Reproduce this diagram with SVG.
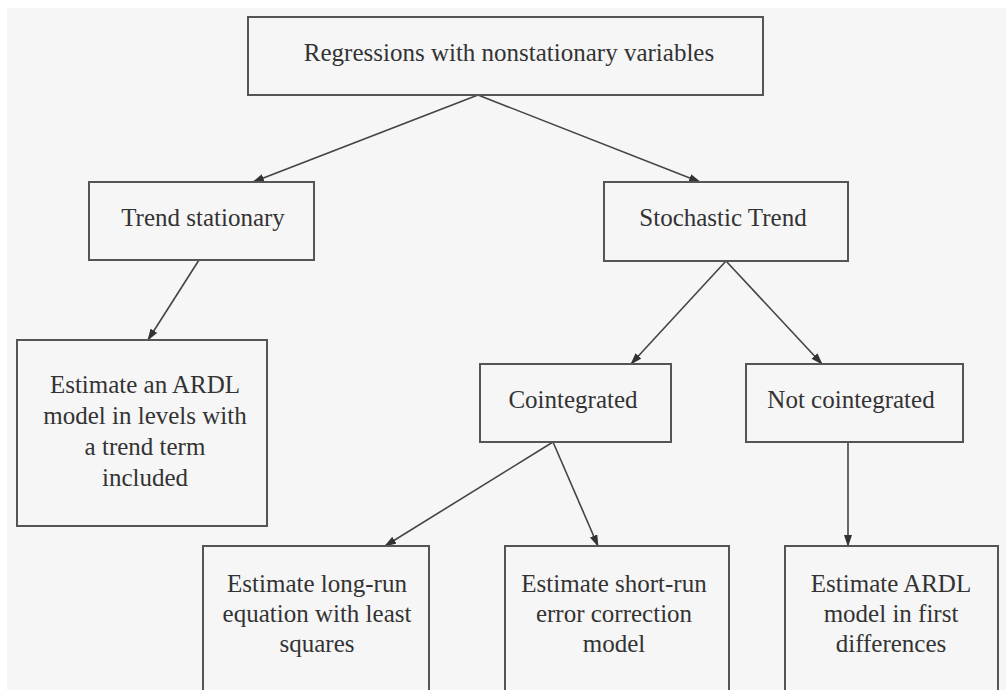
<svg xmlns="http://www.w3.org/2000/svg" width="1006" height="690" viewBox="0 0 1006 690">
<style>
.box{fill:#f6f6f6;stroke:#555;stroke-width:2}
.t{font-family:'Liberation Serif','Times New Roman',serif;font-size:25px;fill:#333;text-anchor:middle}
.c{stroke:#444;stroke-width:1.6;fill:none}
</style>
<defs>
<marker id="ah" markerUnits="userSpaceOnUse" markerWidth="12" markerHeight="8" refX="11" refY="4" orient="auto">
<path d="M0,0 L12,4 L0,8 z" fill="#333"/>
</marker>
</defs>
<rect x="0" y="0" width="1006" height="690" fill="#ffffff"/>
<rect x="7" y="8" width="999" height="682" fill="#f6f6f6"/>
<g id="connectors">
<line class="c" x1="478" y1="95" x2="253" y2="182" marker-end="url(#ah)"/>
<line class="c" x1="478" y1="95" x2="700" y2="182" marker-end="url(#ah)"/>
<line class="c" x1="199" y1="260" x2="148" y2="340" marker-end="url(#ah)"/>
<line class="c" x1="726" y1="261" x2="631" y2="364" marker-end="url(#ah)"/>
<line class="c" x1="726" y1="261" x2="822" y2="364" marker-end="url(#ah)"/>
<line class="c" x1="553" y1="442" x2="385" y2="546" marker-end="url(#ah)"/>
<line class="c" x1="553" y1="442" x2="598" y2="546" marker-end="url(#ah)"/>
<line class="c" x1="848" y1="442" x2="848" y2="546" marker-end="url(#ah)"/>
</g>
<g id="root">
<rect class="box" x="248" y="17" width="515" height="78"/>
<text class="t" x="509" y="61">Regressions with nonstationary variables</text>
</g>
<g id="trend-stationary">
<rect class="box" x="89" y="182" width="225" height="78"/>
<text class="t" x="203" y="226">Trend stationary</text>
</g>
<g id="stochastic-trend">
<rect class="box" x="604" y="182" width="244" height="79"/>
<text class="t" x="723" y="226">Stochastic Trend</text>
</g>
<g id="ardl-levels">
<rect class="box" x="17" y="340" width="250" height="186"/>
<text class="t" x="145" y="393">Estimate an ARDL</text>
<text class="t" x="145" y="424">model in levels with</text>
<text class="t" x="145" y="455">a trend term</text>
<text class="t" x="145" y="486">included</text>
</g>
<g id="cointegrated">
<rect class="box" x="480" y="364" width="191" height="78"/>
<text class="t" x="573" y="408">Cointegrated</text>
</g>
<g id="not-cointegrated">
<rect class="box" x="746" y="364" width="217" height="78"/>
<text class="t" x="851" y="408">Not cointegrated</text>
</g>
<g id="long-run">
<rect class="box" x="203" y="546" width="226" height="160"/>
<text class="t" x="317" y="592">Estimate long-run</text>
<text class="t" x="317" y="622">equation with least</text>
<text class="t" x="317" y="652">squares</text>
</g>
<g id="short-run">
<rect class="box" x="505" y="546" width="224" height="160"/>
<text class="t" x="614" y="592">Estimate short-run</text>
<text class="t" x="614" y="622">error correction</text>
<text class="t" x="614" y="652">model</text>
</g>
<g id="ardl-diff">
<rect class="box" x="785" y="546" width="213" height="160"/>
<text class="t" x="891" y="592">Estimate ARDL</text>
<text class="t" x="891" y="622">model in first</text>
<text class="t" x="891" y="652">differences</text>
</g>
</svg>
